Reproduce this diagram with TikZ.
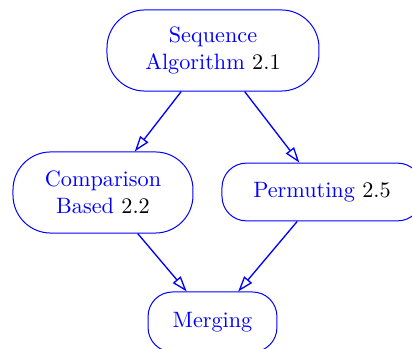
\documentclass[tikz,border=0pt]{standalone}
\usetikzlibrary{arrows.meta}
\begin{document}
\begin{tikzpicture}[x=0.45pt,y=-0.45pt,
  topic/.style={draw=blue, text=blue, align=center, inner sep=0pt, line width=0.45pt},
  link/.style={draw=blue, line width=0.6pt, -{Triangle[open,length=7pt,width=4.6pt]}}]
\useasboundingbox (0,0) rectangle (412,349);
\node[topic, minimum width=95.4pt, minimum height=36.5pt, rounded corners=17pt] (seq) at (213,50.5)
  {Sequence\\Algorithm \textcolor{black}{2.1}};
\node[topic, minimum width=81pt, minimum height=36.5pt, rounded corners=17pt] (cmp) at (103,192.5)
  {Comparison\\Based \textcolor{black}{2.2}};
\node[topic, minimum width=90pt, minimum height=26pt, rounded corners=11pt] (perm) at (322,192)
  {Permuting \textcolor{black}{2.5}};
\node[topic, minimum width=58pt, minimum height=27pt, rounded corners=11pt] (merge) at (212.5,322)
  {Merging};
\draw[link] (seq) -- (cmp);
\draw[link] (seq) -- (perm);
\draw[link] (cmp) -- (merge);
\draw[link] (perm) -- (merge);
\end{tikzpicture}
\end{document}
